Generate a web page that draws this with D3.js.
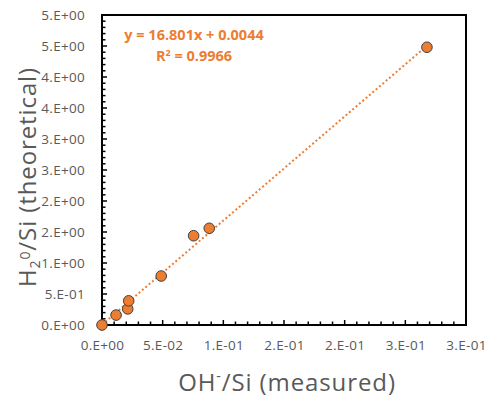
<!DOCTYPE html>
<html>
<head>
<meta charset="utf-8">
<script src="https://cdn.jsdelivr.net/npm/d3@7/dist/d3.min.js"></script>
<style>
  html, body { margin: 0; padding: 0; background: #fff; }
  svg { display: block; }
</style>
</head>
<body>
<svg id="chart" width="491" height="401"></svg>
<script>
// ---- data ----
const xMeasured = [0, 0.0116, 0.0212, 0.0220, 0.0488, 0.0755, 0.0884, 0.2678];
const yTheoretical = [0, 0.16, 0.26, 0.39, 0.79, 1.44, 1.56, 4.48];
const xTickValues = [0, 0.05, 0.10, 0.15, 0.20, 0.25, 0.30];
const xTickLabels = ["0.E+00", "5.E-02", "1.E-01", "2.E-01", "2.E-01", "3.E-01", "3.E-01"];
const yTickValues = [0, 0.5, 1.0, 1.5, 2.0, 2.5, 3.0, 3.5, 4.0, 4.5, 5.0];
const yTickLabels = ["0.E+00", "5.E-01", "1.E+00", "2.E+00", "2.E+00", "3.E+00", "3.E+00", "4.E+00", "4.E+00", "5.E+00", "5.E+00"];
const trendSlope = 16.801;
const trendIntercept = 0.0044;
const equationText = "y = 16.801x + 0.0044";
const r2Value = "0.9966";

// ---- layout ----
const svg = d3.select("#chart");
const pL = 102, pR = 466, pT = 15, pB = 325;
const orange = "#ED7D31";
const grey = "#595959";
const font = "'Open Sans', sans-serif";

const x = d3.scaleLinear().domain([0, 0.30]).range([pL, pR]);
const y = d3.scaleLinear().domain([0, 5.0]).range([pB, pT]);

// plot frame
svg.append("rect")
  .attr("x", pL).attr("y", pT)
  .attr("width", pR - pL).attr("height", pB - pT)
  .attr("fill", "none").attr("stroke", "#000").attr("stroke-width", 2);

// minor ticks (inward)
const xMinor = d3.range(0, 31).map(i => i / 100).filter(v => !xTickValues.some(t => Math.abs(t - v) < 1e-9));
const yMinor = d3.range(0, 51).map(i => i / 10).filter(v => !yTickValues.some(t => Math.abs(t - v) < 1e-9));

const xAxis = d3.axisBottom(x).tickValues(xTickValues).tickSize(0).tickPadding(15)
  .tickFormat((d, i) => xTickLabels[i]);
const gx = svg.append("g").attr("transform", `translate(0,${pB})`).call(xAxis);
gx.select(".domain").remove();
gx.selectAll("text").attr("fill", grey).style("font-family", font)
  .style("font-size", "13.5px").style("letter-spacing", "0.3px");

const yAxis = d3.axisLeft(y).tickValues(yTickValues).tickSize(0).tickPadding(17)
  .tickFormat((d, i) => yTickLabels[i]);
const gy = svg.append("g").attr("transform", `translate(${pL},0)`).call(yAxis);
gy.select(".domain").remove();
gy.selectAll("text").attr("fill", grey).style("font-family", font)
  .style("font-size", "13.5px").style("letter-spacing", "0.3px");

const ticks = svg.append("g").attr("stroke", "#000").attr("stroke-width", 1.5);
ticks.selectAll(".xmaj").data(xTickValues.slice(1)).join("line")
  .attr("x1", d => x(d)).attr("x2", d => x(d)).attr("y1", pB).attr("y2", pB - 5);
ticks.selectAll(".xmin").data(xMinor).join("line")
  .attr("x1", d => x(d)).attr("x2", d => x(d)).attr("y1", pB).attr("y2", pB - 3.5);
ticks.selectAll(".ymaj").data(yTickValues.slice(1)).join("line")
  .attr("x1", pL).attr("x2", pL + 5).attr("y1", d => y(d)).attr("y2", d => y(d));
ticks.selectAll(".ymin").data(yMinor).join("line")
  .attr("x1", pL).attr("x2", pL + 3.5).attr("y1", d => y(d)).attr("y2", d => y(d));

// trendline
const xMax = d3.max(xMeasured);
svg.append("line")
  .attr("x1", x(0)).attr("y1", y(trendIntercept))
  .attr("x2", x(xMax)).attr("y2", y(trendSlope * xMax + trendIntercept))
  .attr("stroke", orange).attr("stroke-width", 2)
  .attr("stroke-dasharray", "2,2.4");

// points
svg.append("g").selectAll("circle")
  .data(xMeasured.map((v, i) => [v, yTheoretical[i]]))
  .join("circle")
  .attr("cx", d => x(d[0])).attr("cy", d => y(d[1])).attr("r", 5.3)
  .attr("fill", orange).attr("stroke", "#404040").attr("stroke-width", 1);

// equation
svg.append("text").attr("x", 194).attr("y", 40).attr("text-anchor", "middle")
  .attr("fill", orange).style("font-family", font)
  .style("font-weight", "bold").style("font-size", "14.5px").text(equationText);
const r2 = svg.append("text").attr("x", 194).attr("y", 61).attr("text-anchor", "middle")
  .attr("fill", orange).style("font-family", font)
  .style("font-weight", "bold").style("font-size", "14.5px");
r2.append("tspan").text("R");
r2.append("tspan").attr("dy", -5).style("font-size", "9px").text("2");
r2.append("tspan").attr("dy", 5).text(" = " + r2Value);

// axis titles
const xt = svg.append("text").attr("x", 287).attr("y", 391).attr("text-anchor", "middle")
  .attr("fill", grey).style("font-family", font).style("font-size", "24px")
  .style("letter-spacing", "0.9px");
xt.append("tspan").text("OH");
xt.append("tspan").attr("dy", -10).style("font-size", "14px").text("-");
xt.append("tspan").attr("dy", 10).text("/Si (measured)");

const yt = svg.append("text").attr("transform", "translate(36,177) rotate(-90)").attr("text-anchor", "middle")
  .attr("fill", grey).style("font-family", font).style("font-size", "24px")
  .style("letter-spacing", "0.9px");
yt.append("tspan").text("H");
yt.append("tspan").attr("dy", 4).style("font-size", "14px").text("2");
yt.append("tspan").attr("dy", -10).style("font-size", "14px").text("0");
yt.append("tspan").attr("dy", 6).text("/Si (theoretical)");
</script>
</body>
</html>
